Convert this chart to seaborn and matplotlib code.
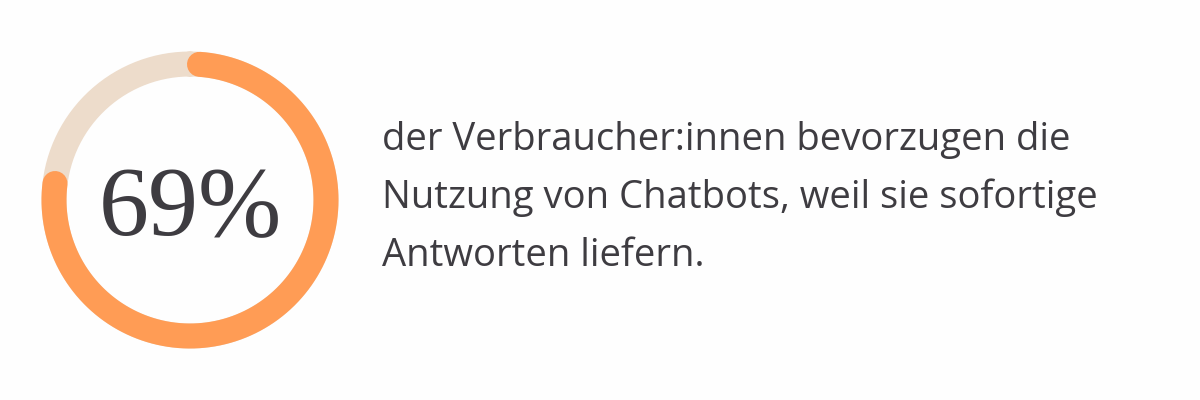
import numpy as np
import matplotlib
matplotlib.use('Agg')
import matplotlib.pyplot as plt
import seaborn as sns

# data
value = 69
ring_max = 91          # visual scale of the gauge ring
start_deg = 4          # arc starts just right of 12 o'clock
label = f'{value}%'
text_lines = ['der Verbraucher:innen bevorzugen die',
              'Nutzung von Chatbots, weil sie sofortige',
              'Antworten liefern.']

orange = '#FF9C55'
beige = '#EDDCCB'
dark = '#3E3C41'
bg = '#FEFEFE'

sns.set_theme(style='white')
plt.rcParams['font.family'] = ['Open Sans', 'DejaVu Sans']

fig = plt.figure(figsize=(12, 4), dpi=100, facecolor=bg)

# ring in a polar axes centred at (190, 200) px, radius 150 px
cx, cy, R = 190, 200, 150
ax = fig.add_axes([(cx - R) / 1200, (cy - R) / 400, 2 * R / 1200, 2 * R / 400],
                  projection='polar')
ax.set_theta_zero_location('N')
ax.set_theta_direction(-1)
ax.set_ylim(0, R)
ax.set_facecolor('none')
ax.axis('off')

r_ring = 136
lw = 25 * 0.72
full = np.linspace(0, 2 * np.pi, 400)
ax.plot(full, np.full_like(full, r_ring), color=beige, lw=lw)

sweep = value / ring_max * 2 * np.pi
theta = np.deg2rad(start_deg) + np.linspace(0, sweep, 400)
sns.lineplot(x=theta, y=np.full_like(theta, r_ring), ax=ax, color=orange,
             lw=lw, sort=False, solid_capstyle='round', estimator=None)

fig.text(cx / 1200, (400 - 235) / 400, label, ha='center', va='baseline',
         fontsize=72, color=dark, family=['Liberation Serif', 'DejaVu Serif'])

baselines = [150, 208, 266]
for line, yb in zip(text_lines, baselines):
    fig.text(382 / 1200, (400 - yb) / 400, line, ha='left', va='baseline',
             fontsize=27.5, color=dark)

fig.savefig('out.png', dpi=100, facecolor=bg)
